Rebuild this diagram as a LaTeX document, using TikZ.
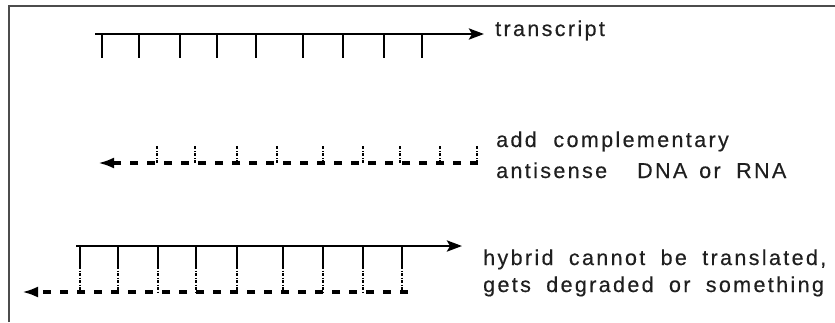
\documentclass[tikz,border=0pt]{standalone}
\usepackage{fontspec}
\setmainfont{Liberation Sans}
\newfontfamily\lblfont[LetterSpace=11,FakeBold=0.4]{Liberation Sans}
\usetikzlibrary{arrows.meta}
\newcommand{\wgap}{\hspace{7pt}}
\begin{document}
\begin{tikzpicture}[x=1pt,y=-1pt,
  strand/.style={line width=2.8pt},
  tickline/.style={line width=1.6pt},
  dtick/.style={line width=1.2pt, dash pattern=on 3pt off 1.5pt on 1pt off 1.5pt},
  dstrand/.style={line width=3.2pt, dash pattern=on 8pt off 9pt},
  headA/.style={-{Stealth[length=15pt,width=11pt,inset=3pt]}},
  headB/.style={-{Latex[length=16pt,width=11pt]}},
  lab/.style={font=\lblfont\fontsize{21.5}{25}\selectfont, anchor=base west, inner sep=0pt, text=black!88}]
\useasboundingbox (0,0) rectangle (835,322);
\draw[gray!60!black, line width=1.3pt] (9,322) -- (9,6) -- (835,6);

% transcript
\coordinate (s1a) at (95,34);
\coordinate (s1b) at (484,34);
\draw[strand, headA] (s1a) -- (s1b);
\foreach \x in {102,139,180,217,256,303,343,384,422}
  \draw[tickline] (\x,34) -- (\x,58);
\node[lab] (t1) at (495,36) {transcript};

% antisense
\coordinate (s2a) at (478,163);
\coordinate (s2b) at (98,163);
\draw[dstrand, headB] (s2a) -- (s2b);
\foreach \x in {157,195,237,277,323,363,400,440,477}
  \draw[dtick] (\x,163) -- (\x,146);
\node[lab] (t2) at (496,147) {add~ complementary};
\node[lab] (t3) at (496,178) {antisense};
\node[lab] (t4) at (637,178) {DNA};
\node[lab] (t5) at (699,178) {or};
\node[lab] (t6) at (736,178) {RNA};

% hybrid
\coordinate (s3a) at (76,246);
\coordinate (s3b) at (462,246);
\draw[strand, headA] (s3a) -- (s3b);
\coordinate (s4a) at (408,292);
\coordinate (s4b) at (22,292);
\draw[dstrand, line width=3.6pt, headB] (s4a) -- (s4b);
\foreach \x in {80,118,158,196,237,283,323,363,402}{
  \draw[tickline] (\x,246) -- (\x,266);
  \draw[dtick] (\x,266) -- (\x,292);
}
\node[lab] (t7) at (483,265) {hybrid~\wgap cannot~\wgap be~\wgap translated,};
\node[lab] (t8) at (483,292) {gets~\wgap degraded~\wgap or~\wgap something};
\end{tikzpicture}
\end{document}
